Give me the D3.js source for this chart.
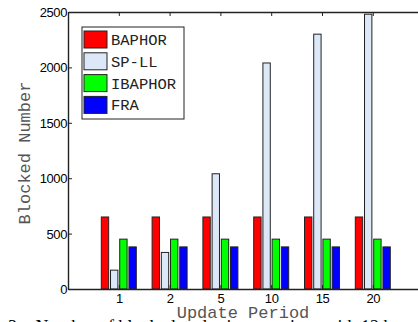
<!DOCTYPE html>
<html>
<head>
<meta charset="utf-8">
<script src="https://cdn.jsdelivr.net/npm/d3@7"></script>
<style>
  body { margin: 0; background: #fff; overflow: hidden; }
  svg { display: block; }
</style>
</head>
<body>
<div id="chart"></div>
<script>
// data
const periods = ['1', '2', '5', '10', '15', '20'];
const seriesNames = ['BAPHOR', 'SP-LL', 'IBAPHOR', 'FRA'];
const seriesColors = ['#ff0000', '#dce8f8', '#00ff00', '#0000ff'];
const baphor = [650, 650, 650, 650, 650, 650];
const spll = [170, 330, 1040, 2040, 2300, 2480];
const ibaphor = [450, 450, 450, 450, 450, 450];
const fra = [380, 380, 380, 380, 380, 380];
const yTicks = [0, 500, 1000, 1500, 2000, 2500];

const allSeries = [baphor, spll, ibaphor, fra];

const W = 418, H = 322;
const mLeft = 68, mTop = 12, mBottom = 289;

const svg = d3.select('#chart').append('svg')
  .attr('width', W)
  .attr('height', H);

// x as category index (matlab style: 0..7)
const x = d3.scaleLinear().domain([0, 7]).range([mLeft, mLeft + 7 * 50.8]);
const y = d3.scaleLinear().domain([0, 2500]).range([mBottom, mTop]);
const xs = d3.scaleBand().domain(seriesNames).range([-17.5, 17.5]).paddingInner(0.2);

const rows = periods.map((p, i) => ({
  period: p,
  idx: i + 1,
  vals: allSeries.map((s, k) => ({ name: seriesNames[k], color: seriesColors[k], v: s[i] }))
}));

// bars
const groups = svg.selectAll('.grp')
  .data(rows)
  .enter().append('g')
  .attr('class', 'grp')
  .attr('transform', d => 'translate(' + x(d.idx) + ',0)');

groups.selectAll('rect')
  .data(d => d.vals)
  .enter().append('rect')
  .attr('x', d => xs(d.name))
  .attr('y', d => y(d.v))
  .attr('width', xs.bandwidth())
  .attr('height', d => y(0) - y(d.v))
  .attr('fill', d => d.color)
  .attr('stroke', '#222')
  .attr('stroke-width', 1);

// axes
const xAxis = d3.axisBottom(x)
  .tickValues(d3.range(1, 7))
  .tickFormat(i => periods[i - 1])
  .tickSizeInner(-4).tickSizeOuter(0).tickPadding(5);

const gx = svg.append('g')
  .attr('transform', 'translate(0,' + mBottom + ')')
  .call(xAxis);

const gxTop = svg.append('g')
  .attr('transform', 'translate(0,' + mTop + ')')
  .call(d3.axisTop(x).tickValues(d3.range(1, 7)).tickFormat('').tickSizeInner(-4).tickSizeOuter(0));

const gy = svg.append('g')
  .attr('transform', 'translate(' + mLeft + ',0)')
  .call(d3.axisLeft(y).tickValues(yTicks).tickFormat(d3.format('d'))
    .tickSizeInner(-4).tickSizeOuter(0).tickPadding(1));

[gx, gxTop, gy].forEach(g => {
  g.select('.domain').attr('stroke', '#222').attr('stroke-width', 1.4);
  g.selectAll('.tick line').attr('stroke', '#222');
  g.selectAll('.tick text')
    .attr('fill', '#000')
    .style('font-family', '"Liberation Sans", Arial, sans-serif')
    .style('font-size', '13px')
    .style('letter-spacing', '-0.4px');
});
gy.selectAll('.tick text').attr('dy', '0.35em');

// axis titles
svg.append('text')
  .attr('x', 243).attr('y', 318)
  .attr('text-anchor', 'middle')
  .attr('fill', '#555')
  .style('font-family', '"Liberation Mono", "DejaVu Sans Mono", monospace')
  .style('font-size', '17px')
  .text('Update Period');

svg.append('text')
  .attr('transform', 'translate(30,153) rotate(-90)')
  .attr('text-anchor', 'middle')
  .attr('fill', '#555')
  .style('font-family', '"Liberation Mono", "DejaVu Sans Mono", monospace')
  .style('font-size', '17px')
  .text('Blocked Number');

// caption, cut off at the bottom of the page
svg.append('text')
  .attr('x', 8).attr('y', 333)
  .attr('fill', '#000')
  .style('font-family', '"Liberation Serif", "Times New Roman", serif')
  .style('font-size', '18px')
  .attr('xml:space', 'preserve')
  .text('3:   Number of blocked nodes in operations with 12 h');

// legend
const lg = svg.append('g').attr('transform', 'translate(82,27)');
lg.append('rect')
  .attr('width', 102).attr('height', 92)
  .attr('fill', '#fff').attr('stroke', '#222').attr('stroke-width', 1);

const items = lg.selectAll('.item')
  .data(seriesNames)
  .enter().append('g')
  .attr('class', 'item')
  .attr('transform', (d, i) => 'translate(0,' + (4 + i * 21.8) + ')');

items.append('rect')
  .attr('x', 2).attr('y', 0)
  .attr('width', 23).attr('height', 17)
  .attr('fill', (d, i) => seriesColors[i])
  .attr('stroke', '#222');

items.append('text')
  .attr('x', 29).attr('y', 14)
  .attr('fill', '#222')
  .style('font-family', '"Liberation Mono", "DejaVu Sans Mono", monospace')
  .style('font-size', '15.5px')
  .text(d => d);
</script>
</body>
</html>
